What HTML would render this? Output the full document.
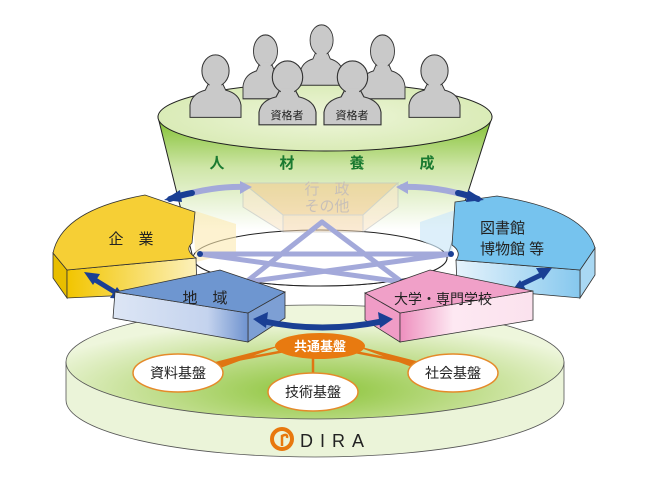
<!DOCTYPE html>
<html><head><meta charset="utf-8"><style>
html,body{margin:0;padding:0;background:#fff;}
svg{display:block;font-family:"Liberation Sans","Noto Sans CJK JP",sans-serif;}
</style></head><body>
<svg width="650" height="486" viewBox="0 0 650 486" xmlns="http://www.w3.org/2000/svg">
<defs>
<linearGradient id="fun" x1="0" y1="117" x2="0" y2="230" gradientUnits="userSpaceOnUse">
<stop offset="0" stop-color="#7fbf2e"/><stop offset="0.45" stop-color="#cfe6a8"/><stop offset="1" stop-color="#ffffff"/></linearGradient>
<radialGradient id="ftop" cx="0.5" cy="0.5" r="0.6"><stop offset="0" stop-color="#eef6da"/><stop offset="1" stop-color="#d6e9b0"/></radialGradient>
<radialGradient id="base" cx="0.5" cy="0.75" r="0.6"><stop offset="0" stop-color="#8cc43a"/><stop offset="0.6" stop-color="#c7e198"/><stop offset="1" stop-color="#eef6dc"/></radialGradient>
<linearGradient id="yf" x1="0" x2="1"><stop offset="0" stop-color="#f2c500"/><stop offset="1" stop-color="#fcf1bc"/></linearGradient>
<linearGradient id="bf" x1="0" x2="1"><stop offset="0" stop-color="#e6f3fc"/><stop offset="1" stop-color="#86c8ee"/></linearGradient>
<linearGradient id="cf" x1="0" x2="1"><stop offset="0" stop-color="#dde6f5"/><stop offset="0.7" stop-color="#c4d3ee"/><stop offset="1" stop-color="#6f93cf"/></linearGradient>
<linearGradient id="pf" x1="0" x2="1"><stop offset="0" stop-color="#ee8fbe"/><stop offset="0.4" stop-color="#fde8f2"/><stop offset="1" stop-color="#fbe2ee"/></linearGradient>
<g id="p">
<path d="M0,72 L0,58 Q2,45 18,41 L22,33 L38,33 L42,41 Q58,45 60,58 L60,72 Z" fill="#c9c9c9" stroke="#333" stroke-width="1.2"/>
<ellipse cx="30" cy="19" rx="16" ry="18" fill="#c9c9c9" stroke="#333" stroke-width="1.2"/>
<rect x="23" y="32" width="14" height="10" fill="#c9c9c9"/>
</g>
</defs>

<path d="M66,362 L66,400 A249,57 0 0 0 564,400 L564,362 Z" fill="#ebf4d9" stroke="#555" stroke-width="0.8"/>
<ellipse cx="315" cy="362" rx="249" ry="57" fill="url(#base)" stroke="#555" stroke-width="0.8"/>

<path d="M158,117 L193,258 A127,28 0 0 0 447,258 L492,117 Z" fill="url(#fun)" stroke="#222" stroke-width="1"/>
<ellipse cx="320" cy="258" rx="127" ry="28" fill="#fff" fill-opacity="0.6" stroke="#222" stroke-width="1"/>

<g opacity="0.55">
<polygon points="243,183 398,183 363,215 283,215" fill="#f5c98a" stroke="#bbb"/>
<polygon points="243,183 283,215 283,232 243,207" fill="#fbe6c8" stroke="#bbb"/>
<polygon points="283,215 363,215 363,232 283,232" fill="#f8d9b0" stroke="#bbb"/>
<polygon points="363,215 398,183 398,207 363,232" fill="#fbe6c8" stroke="#bbb"/>
</g>
<text x="327" y="194" font-size="15" fill="#c8c0b8" text-anchor="middle">行　政</text>
<text x="327" y="211" font-size="15" fill="#c8c0b8" text-anchor="middle">その他</text>

<polygon points="192,210 236,224 236,252 196,262" fill="#fbeab0" opacity="0.6"/>
<polygon points="455,210 420,222 420,240 452,255" fill="#cfe8f8" opacity="0.7"/>

<g stroke="#a3a9da" stroke-width="5" fill="none" stroke-linecap="round">
<line x1="322" y1="222" x2="246" y2="282"/>
<line x1="322" y1="222" x2="402" y2="282"/>
<line x1="200" y1="254" x2="451" y2="254"/>
<line x1="200" y1="254" x2="402" y2="282"/>
<line x1="451" y1="254" x2="246" y2="282"/>
</g>

<ellipse cx="325" cy="117" rx="167" ry="34" fill="url(#ftop)" stroke="#222" stroke-width="1"/>

<use href="#p" transform="translate(300,24) scale(0.72,0.85)"/>
<use href="#p" transform="translate(243,34) scale(0.75,0.9)"/>
<use href="#p" transform="translate(360,34) scale(0.75,0.9)"/>
<use href="#p" transform="translate(190,54) scale(0.85,0.88)"/>
<use href="#p" transform="translate(409,54) scale(0.85,0.88)"/>
<use href="#p" transform="translate(259,60) scale(0.95,0.9)"/>
<use href="#p" transform="translate(324,60) scale(0.95,0.9)"/>
<text x="287" y="119" font-size="11" fill="#222" text-anchor="middle">資格者</text>
<text x="352" y="119" font-size="11" fill="#222" text-anchor="middle">資格者</text>

<g font-size="15" font-weight="bold" fill="#1a7a30" text-anchor="middle">
<text x="217" y="168">人</text><text x="287" y="168">材</text><text x="357" y="168">養</text><text x="427" y="168">成</text>
</g>

<polygon points="53,253 67,270 67,298 53,278" fill="#e8be00" stroke="#333" stroke-width="0.8"/>
<polygon points="67,270 196,258 197,292 67,298" fill="url(#yf)" stroke="#333" stroke-width="0.8"/>
<path d="M53,253 Q62,210 145,195 L195,212 L192,243 Q184,250 196,258 L67,270 Z" fill="#f6cf35" stroke="#333" stroke-width="0.8"/>
<text x="131" y="244" font-size="15" fill="#222" text-anchor="middle">企　業</text>

<polygon points="580,270 595,248 595,275 580,298" fill="#a9d8f3" stroke="#333" stroke-width="0.8"/>
<polygon points="456,260 580,270 580,298 457,287" fill="url(#bf)" stroke="#333" stroke-width="0.8"/>
<path d="M455,202 L497,196 Q585,210 595,248 L580,270 L456,260 Q462,252 452,245 Z" fill="#76c3ee" stroke="#333" stroke-width="0.8"/>
<text x="480" y="233" font-size="15" fill="#222">図書館</text>
<text x="480" y="254" font-size="15" fill="#222">博物館 等</text>

<g fill="none" stroke-width="6" stroke-linecap="round">
<path d="M180,196 Q215,186 245,187" stroke="#a3a9da"/>
<path d="M402,187 Q435,186 468,196" stroke="#a3a9da"/>
<path d="M170,199 Q180,195 192,193" stroke="#1a3f94"/>
<path d="M458,193 Q468,195 478,199" stroke="#1a3f94"/>
</g>
<polygon points="164,200 180,190 182,202" fill="#1a3f94"/>
<polygon points="484,200 468,190 466,202" fill="#1a3f94"/>
<polygon points="252,187 240,181 240,194" fill="#a3a9da"/>
<polygon points="396,187 408,181 408,194" fill="#a3a9da"/>
<circle cx="200" cy="254" r="3" fill="#1a3f94"/><circle cx="451" cy="254" r="3" fill="#1a3f94"/>
<circle cx="246" cy="282" r="3" fill="#1a3f94"/><circle cx="402" cy="282" r="3" fill="#1a3f94"/>

<g stroke="#1a3f94" stroke-width="5" fill="none">
<line x1="92" y1="278" x2="118" y2="294"/>
<line x1="518" y1="286" x2="545" y2="273"/>
</g>
<polygon points="84,272 100,274 93,285" fill="#1a3f94"/>
<polygon points="126,299 110,298 117,287" fill="#1a3f94"/>
<polygon points="552,268 536,268 543,280" fill="#1a3f94"/>
<polygon points="511,292 527,291 520,280" fill="#1a3f94"/>

<polygon points="248,313 285,292 285,318 248,342" fill="#7d9fd4" stroke="#333" stroke-width="0.8"/>
<polygon points="115,292 248,313 248,342 113,318" fill="url(#cf)" stroke="#333" stroke-width="0.8"/>
<polygon points="115,292 220,270 285,292 248,313" fill="#6e96d0" stroke="#333" stroke-width="0.8"/>
<text x="205" y="303" font-size="15" fill="#222" text-anchor="middle">地　域</text>

<polygon points="365,293 400,313 400,342 365,320" fill="#f09cc6" stroke="#333" stroke-width="0.8"/>
<polygon points="400,313 533,291 533,320 400,342" fill="url(#pf)" stroke="#333" stroke-width="0.8"/>
<polygon points="365,293 430,270 533,291 400,313" fill="#f0a0c8" stroke="#333" stroke-width="0.8"/>
<text x="443" y="304" font-size="14" fill="#222" text-anchor="middle">大学・専門学校</text>

<path d="M262,321 Q322,334 384,321" fill="none" stroke="#1a3f94" stroke-width="6"/>
<polygon points="253,319 268,312 266,328" fill="#1a3f94"/>
<polygon points="393,319 378,312 380,328" fill="#1a3f94"/>

<g stroke="#e07512" stroke-width="2.5">
<line x1="290" y1="350" x2="210" y2="365"/>
<line x1="313" y1="350" x2="313" y2="375"/>
<line x1="345" y1="350" x2="420" y2="365"/>
</g>
<polygon points="285,344 215,370 215,362" fill="#e07512"/>
<polygon points="350,344 420,370 420,362" fill="#e07512"/>
<ellipse cx="320" cy="346" rx="45" ry="13" fill="#e87a10"/>
<text x="320" y="351" font-size="13" font-weight="bold" fill="#fff" text-anchor="middle">共通基盤</text>
<g fill="#fff" stroke="#e58a2a" stroke-width="1.5">
<ellipse cx="178" cy="373" rx="45" ry="19"/>
<ellipse cx="313" cy="392" rx="45" ry="19"/>
<ellipse cx="453" cy="373" rx="45" ry="19"/>
</g>
<g font-size="14" fill="#222" text-anchor="middle">
<text x="178" y="378">資料基盤</text>
<text x="313" y="397">技術基盤</text>
<text x="453" y="378">社会基盤</text>
</g>

<circle cx="282" cy="439" r="10" fill="none" stroke="#e8780e" stroke-width="4"/>
<path d="M282,446 L282,436 Q288,433 287,438" fill="none" stroke="#e8780e" stroke-width="2.5"/>
<text x="300" y="447" font-size="18" fill="#222" letter-spacing="7">DIRA</text>
</svg>
</body></html>
